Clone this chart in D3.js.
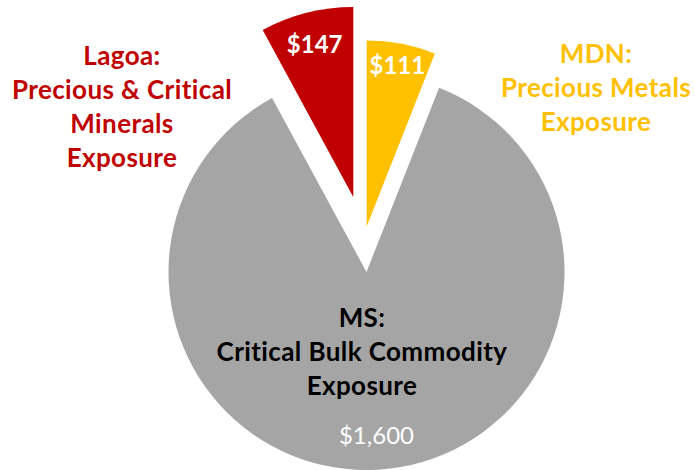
<!DOCTYPE html>
<html>
<head>
<meta charset="utf-8">
<script src="https://cdn.jsdelivr.net/npm/d3@7"></script>
<style>
  body { margin: 0; background: #fff; }
  svg text { font-family: Lato, "Open Sans", sans-serif; }
</style>
</head>
<body>
<div id="chart"></div>
<script>
// data
var categories = ["MDN", "MS", "Lagoa"];
var values = [111, 1600, 147];
var valueLabels = ["$111", "$1,600", "$147"];
var categoryLines = [
  ["MDN:", "Precious Metals", "Exposure"],
  ["MS:", "Critical Bulk Commodity", "Exposure"],
  ["Lagoa:", "Precious & Critical", "Minerals", "Exposure"]
];
var colors = ["#FFC000", "#A5A5A5", "#C00000"];

// layout (pixels)
var width = 695, height = 470;
var cx = 366.5, cy = 272;
var sliceLayout = [
  { r: 186, dx: 0.2, dy: -45.5, labelR: 164, bold: true },
  { r: 198, dx: 0, dy: 0, labelR: 164, bold: false },
  { r: 190, dx: -13.2, dy: -75, labelR: 157, bold: true }
];
var captionLayout = [
  { x: 596, y: 63, color: "#FFC000" },
  { x: 362, y: 327, color: "#000000" },
  { x: 122, y: 65, color: "#C00000" }
];
var lineStep = 34;

var svg = d3.select("#chart").append("svg")
  .attr("width", width)
  .attr("height", height);

var pie = d3.pie().sort(null).value(function(d) { return d; });
var arcs = pie(values);

var g = svg.append("g").attr("transform", "translate(" + cx + "," + cy + ")");

var slices = g.selectAll("g.slice").data(arcs).enter()
  .append("g")
  .attr("class", "slice")
  .attr("transform", function(d, i) {
    return "translate(" + sliceLayout[i].dx + "," + sliceLayout[i].dy + ")";
  });

slices.append("path")
  .attr("d", function(d, i) {
    return d3.arc().innerRadius(0).outerRadius(sliceLayout[i].r)(d);
  })
  .style("fill", function(d, i) { return colors[i]; });

slices.append("text")
  .attr("transform", function(d, i) {
    var lr = sliceLayout[i].labelR;
    var c = d3.arc().innerRadius(lr).outerRadius(lr).centroid(d);
    return "translate(" + c[0] + "," + c[1] + ")";
  })
  .attr("text-anchor", "middle")
  .attr("dy", "0.35em")
  .style("fill", "#fff")
  .style("font-size", "24px")
  .style("font-weight", function(d, i) { return sliceLayout[i].bold ? "bold" : "normal"; })
  .text(function(d, i) { return valueLabels[i]; });

// category captions
categories.forEach(function(cat, i) {
  var t = svg.append("text")
    .attr("x", captionLayout[i].x)
    .attr("y", captionLayout[i].y)
    .attr("text-anchor", "middle")
    .style("fill", captionLayout[i].color)
    .style("font-size", "26px")
    .style("letter-spacing", "0.4px")
    .style("font-weight", "bold");
  t.selectAll("tspan").data(categoryLines[i]).enter()
    .append("tspan")
    .attr("x", captionLayout[i].x)
    .attr("dy", function(d, j) { return j == 0 ? 0 : lineStep; })
    .text(function(d) { return d; });
});
</script>
</body>
</html>
